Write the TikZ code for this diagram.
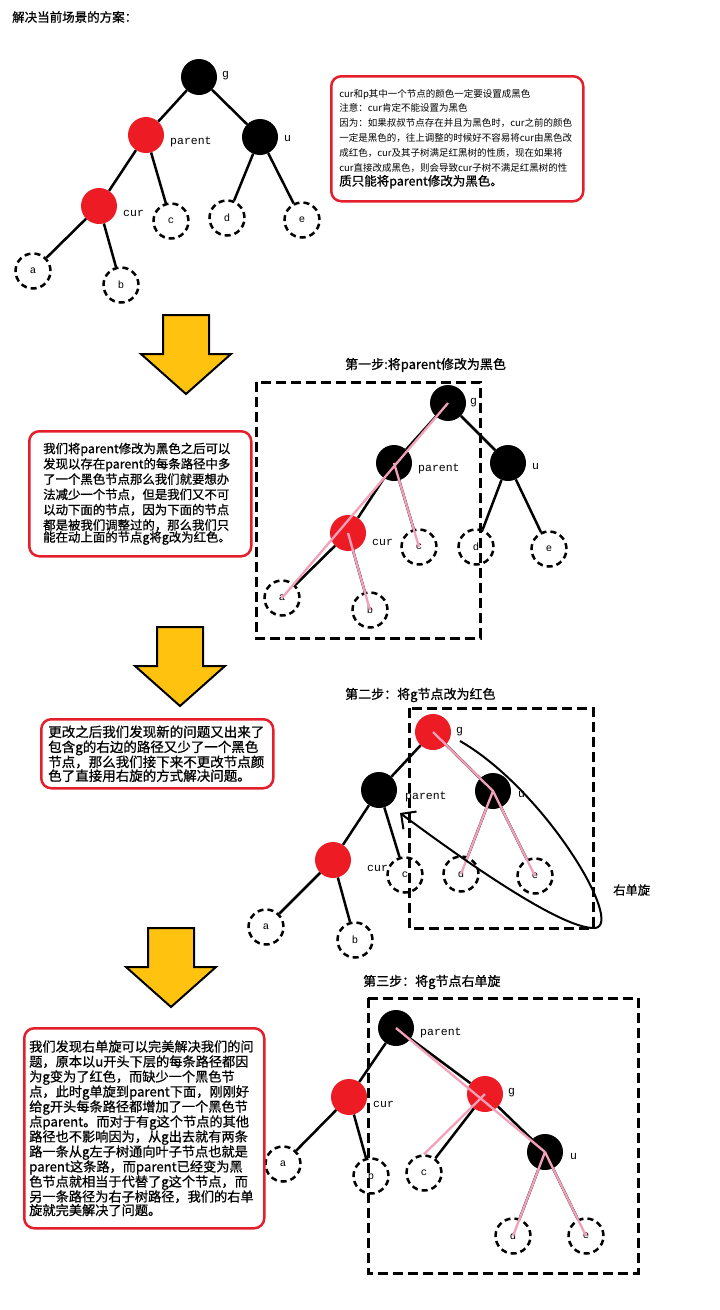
\documentclass[tikz,border=0pt]{standalone}
\usepackage{fontspec}
\setmainfont{Noto Sans CJK SC}
\setmonofont{Liberation Mono}
\newfontfamily\heavycjk[FakeBold=0.8]{Noto Sans CJK SC}
\usepackage{xcolor}
\usetikzlibrary{shapes,arrows.meta,positioning}
\definecolor{nodered}{RGB}{237,28,36}
\definecolor{boxred}{RGB}{228,30,42}
\definecolor{pathpink}{RGB}{243,160,185}
\definecolor{arrowgold}{RGB}{255,194,14}
\tikzset{
  blknode/.style={circle, fill=black, minimum size=36pt, inner sep=0pt},
  rednode/.style={circle, fill=nodered, minimum size=36pt, inner sep=0pt},
  leaf/.style={circle, draw=black, line width=2.5pt, dash pattern=on 6pt off 4pt, minimum size=35pt, inner sep=0pt, font=\ttfamily\fontsize{10.5}{10.5}\selectfont},
  tag/.style={anchor=west, inner sep=0pt, font=\ttfamily\fontsize{11.5}{12}\selectfont},
  branch/.style={line width=2.5pt, draw=black},
  pinkpath/.style={line width=2.3pt, draw=pathpink},
  stepframe/.style={line width=3pt, dash pattern=on 10pt off 5pt},
  steptitle/.style={anchor=west, inner sep=0pt, font=\heavycjk\fontsize{13}{15}\selectfont},
  note/.style={draw=boxred, line width=2.5pt, rounded corners=10pt, anchor=north west, align=left, inner ysep=0pt},
  bigarrow/.style={fill=arrowgold, draw=black, line width=2pt, line join=miter},
}
\begin{document}
\begin{tikzpicture}[x=1pt, y=-1pt]
  \useasboundingbox (0,0) rectangle (720,1310);
  \node[anchor=west, inner sep=0pt, font=\heavycjk\fontsize{12.5}{15}\selectfont] (head) at (12,17) {解决当前场景的方案：};

  % original tree
  \node[blknode] (g1) at (199,77) {};
  \node[rednode] (p1) at (146,135) {};
  \node[blknode] (u1) at (260,137) {};
  \node[rednode] (cur1) at (99,206) {};
  \node[leaf] (lc1) at (171,221) {c};
  \node[leaf] (ld1) at (227,218) {d};
  \node[leaf] (le1) at (302,220) {e};
  \node[leaf] (la1) at (33,271) {a};
  \node[leaf] (lb1) at (121,285) {b};
  \node[tag] (g1tag) at (222,76) {g};
  \node[tag] (p1tag) at (170,142) {parent};
  \node[tag] (u1tag) at (284,139) {u};
  \node[tag] (cur1tag) at (123,213) {cur};
  \draw[branch] (g1) -- (p1) (g1) -- (u1) (p1) -- (cur1) (p1) -- (lc1)
    (u1) -- (ld1) (u1) -- (le1) (cur1) -- (la1) (cur1) -- (lb1);

  \node[note, minimum width=252pt, minimum height=125pt, text width=236pt, inner xsep=8pt] (note1) at (330,75)
    {\fontsize{9.5}{14.9}\selectfont cur和p其中一个节点的颜色一定要设置成黑色\\
     注意：cur肯定不能设置为黑色\\
     因为：如果叔叔节点存在并且为黑色时，cur之前的颜色\\
     一定是黑色的，往上调整的时候好不容易将cur由黑色改\\
     成红色，cur及其子树满足红黑树的性质，现在如果将\\
     cur直接改成黑色，则会导致cur子树不满足红黑树的性\\[2pt]
     {\heavycjk\fontsize{12.5}{15}\selectfont 质只能将parent修改为黑色。}};

  % down arrows
  \foreach \ax/\ay in {186/315, 180/627, 171/928}
    \draw[bigarrow] (\ax-23,\ay) -- (\ax+23,\ay) -- (\ax+23,\ay+39) -- (\ax+45,\ay+39)
      -- (\ax,\ay+79) -- (\ax-45,\ay+39) -- (\ax-23,\ay+39) -- cycle;

  % step one
  \node[steptitle] (step1) at (345,365) {第一步:将parent修改为黑色};
  \draw[stepframe] (256,382) rectangle (480,638);
  \node[blknode] (g2) at (448,403) {};
  \node[blknode] (p2) at (394,463) {};
  \node[blknode] (u2) at (508,463) {};
  \node[rednode] (cur2) at (348,533) {};
  \node[leaf] (lc2) at (419,547) {c};
  \node[leaf] (ld2) at (476,547) {d};
  \node[leaf] (le2) at (549,549) {e};
  \node[leaf] (la2) at (282,598) {a};
  \node[leaf] (lb2) at (370,610) {b};
  \node[tag] (g2tag) at (470,403) {g};
  \node[tag] (p2tag) at (418,469) {parent};
  \node[tag] (u2tag) at (532,467) {u};
  \node[tag] (cur2tag) at (372,542) {cur};
  \draw[branch] (g2) -- (p2) (g2) -- (u2) (p2) -- (cur2) (p2) -- (lc2)
    (u2) -- (ld2) (u2) -- (le2) (cur2) -- (la2) (cur2) -- (lb2);
  \draw[pinkpath] (g2.center) -- (la2.center) (p2.center) -- (lc2.center) (cur2.center) -- (lb2.center);

  \node[note, minimum width=222pt, minimum height=125pt, text width=194pt, inner xsep=14pt] (note2) at (28,430)
    {\heavycjk\fontsize{12.4}{15.3}\selectfont 我们将parent修改为黑色之后可以\\
     发现以存在parent的每条路径中多\\
     了一个黑色节点那么我们就要想办\\
     法减少一个节点，但是我们又不可\\
     以动下面的节点，因为下面的节点\\
     都是被我们调整过的，那么我们只\\
     能在动上面的节点g将g改为红色。};

  % step two
  \node[steptitle] (step2) at (345,695) {第二步：将g节点改为红色};
  \draw[stepframe] (409,708) rectangle (593,928);
  \node[rednode] (g3) at (433,732) {};
  \node[blknode] (p3) at (379,790) {};
  \node[blknode] (u3) at (493,791) {};
  \node[rednode] (cur3) at (333,860) {};
  \node[leaf] (lc3) at (405,875) {c};
  \node[leaf] (ld3) at (461,874) {d};
  \node[leaf] (le3) at (535,876) {e};
  \node[leaf] (la3) at (266,927) {a};
  \node[leaf] (lb3) at (355,940) {b};
  \node[tag] (g3tag) at (456,732) {g};
  \node[tag] (p3tag) at (405,797) {parent};
  \node[tag] (u3tag) at (518,795) {u};
  \node[tag] (cur3tag) at (367,868) {cur};
  \draw[branch] (g3) -- (p3) (g3) -- (u3) (p3) -- (cur3) (p3) -- (lc3)
    (u3) -- (ld3) (u3) -- (le3) (cur3) -- (la3) (cur3) -- (lb3);
  \draw[pinkpath] (g3.center) -- (u3.center) (u3.center) -- (ld3.center) (u3.center) -- (le3.center);
  \coordinate (rotstart) at (460,741);
  \coordinate (rotturn) at (595,928);
  \coordinate (rotend) at (400,813);
  \draw[line width=2pt, -{Straight Barb[length=11pt, width=22pt]}] (rotstart)
    .. controls (545,790) and (625,925) .. (rotturn)
    .. controls (560,930) and (450,850) .. (rotend);
  \node[anchor=west, inner sep=0pt, font=\heavycjk\fontsize{12.3}{14}\selectfont] (rottag) at (613,890) {右单旋};

  \node[note, minimum width=232pt, minimum height=69pt, text width=218pt, inner xsep=7pt] (note3) at (40,718)
    {\heavycjk\fontsize{13.5}{15}\selectfont 更改之后我们发现新的问题又出来了\\
     包含g的右边的路径又少了一个黑色\\
     节点，那么我们接下来不更改节点颜\\
     色了直接用右旋的方式解决问题。};

  % step three
  \node[steptitle] (step3) at (363,982) {第三步：将g节点右单旋};
  \draw[stepframe] (368,998) rectangle (638,1273);
  \node[blknode] (p4) at (396,1028) {};
  \node[rednode] (cur4) at (349,1097) {};
  \node[rednode] (g4) at (485,1094) {};
  \node[blknode] (u4) at (545,1152) {};
  \node[leaf] (la4) at (283,1164) {a};
  \node[leaf] (lb4) at (371,1176) {b};
  \node[leaf] (lc4) at (424,1173) {c};
  \node[leaf] (ld4) at (513,1236) {d};
  \node[leaf] (le4) at (586,1236) {e};
  \node[tag] (p4tag) at (420,1033) {parent};
  \node[tag] (cur4tag) at (373,1104) {cur};
  \node[tag] (g4tag) at (508,1093) {g};
  \node[tag] (u4tag) at (570,1157) {u};
  \draw[branch] (p4) -- (cur4) (p4) -- (g4) (cur4) -- (la4) (cur4) -- (lb4)
    (g4) -- (lc4) (g4) -- (u4) (u4) -- (ld4) (u4) -- (le4);
  \draw[pinkpath] (p4.center) -- (u4.center) (u4.center) -- (ld4.center) (u4.center) -- (le4.center)
    (g4.center) -- (lc4.north);

  \node[note, minimum width=240pt, minimum height=200pt, text width=230pt, inner xsep=5pt] (note4) at (23,1027)
    {\heavycjk\fontsize{13.2}{15}\selectfont 我们发现右单旋可以完美解决我们的问\\
     题，原本以u开头下层的每条路径都因\\
     为g变为了红色，而缺少一个黑色节\\
     点，此时g单旋到parent下面，刚刚好\\
     给g开头每条路径都增加了一个黑色节\\
     点parent。而对于有g这个节点的其他\\
     路径也不影响因为，从g出去就有两条\\
     路一条从g左子树通向叶子节点也就是\\
     parent这条路，而parent已经变为黑\\
     色节点就相当于代替了g这个节点，而\\
     另一条路径为右子树路径，我们的右单\\
     旋就完美解决了问题。};
\end{tikzpicture}
\end{document}
